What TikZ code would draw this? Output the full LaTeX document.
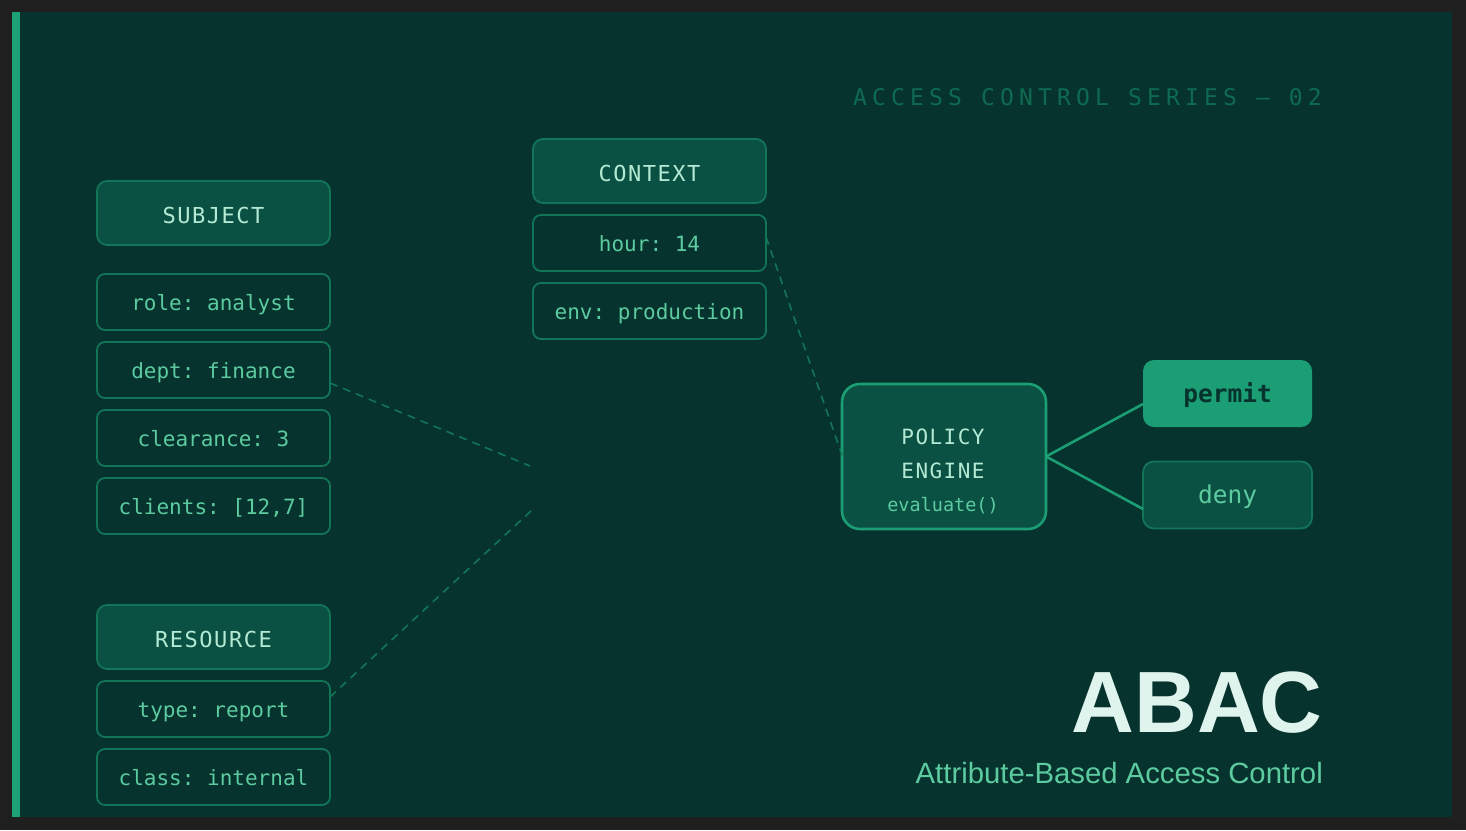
\documentclass[tikz,border=0pt]{standalone}
\usepackage{fontspec}
\setmainfont{Liberation Sans}
\newfontfamily\attrfont{DejaVu Sans Mono}
\newfontfamily\headfont[LetterSpace=7]{DejaVu Sans Mono}
\newfontfamily\titlefont[LetterSpace=22.5]{DejaVu Sans Mono}
\newfontfamily\boldmono{DejaVu Sans Mono Bold}
\definecolor{outerc}{HTML}{1F1F1F}
\definecolor{bgc}{HTML}{06332D}
\definecolor{stripec}{HTML}{1DA177}
\definecolor{headfill}{HTML}{0A5143}
\definecolor{boxline}{HTML}{137558}
\definecolor{accent}{HTML}{1C9E75}
\definecolor{attrtext}{HTML}{5CCBA0}
\definecolor{headtext}{HTML}{B4EAD4}
\definecolor{titlec}{HTML}{0E6A50}
\definecolor{abacc}{HTML}{E0F4EE}
\tikzset{
  headbox/.style={draw=boxline, fill=headfill, line width=1.8pt, rounded corners=10pt,
    minimum width=233pt, minimum height=64pt, inner sep=0pt, outer sep=0pt,
    text=headtext, font={\headfont\fontsize{22}{26}\selectfont}, text height=21pt, text depth=0pt},
  attrbox/.style={draw=boxline, fill=bgc, line width=1.8pt, rounded corners=8pt,
    minimum width=233pt, minimum height=56pt, inner sep=0pt, outer sep=0pt,
    text=attrtext, font={\attrfont\fontsize{21}{25}\selectfont}, text height=17.5pt, text depth=0pt},
  dashlink/.style={draw=boxline, line width=1.6pt, dash pattern=on 8pt off 6pt},
  solidlink/.style={draw=accent, line width=2.6pt},
}
\frenchspacing
\begin{document}
\frenchspacing
\begin{tikzpicture}[x=1pt,y=-1pt]
\useasboundingbox (0,0) rectangle (1466,830);
\fill[outerc] (0,0) rectangle (1466,830);
\fill[bgc] (12,12) rectangle (1452,817);
\fill[stripec] (12,12) rectangle (20,817);

% title
\node[anchor=base east, inner sep=0pt, text=titlec, font={\titlefont\fontsize{23}{27}\selectfont}] (series) at (1322,105) {ACCESS CONTROL SERIES — 02};

% subject
\node[headbox] (subject) at (213.5,213) {SUBJECT};
\node[attrbox] (role) at (213.5,302) {role: analyst};
\node[attrbox] (dept) at (213.5,370) {dept: finance};
\node[attrbox] (clear) at (213.5,438) {clearance: 3};
\node[attrbox] (clients) at (213.5,506) {clients: [12,7]};

% resource
\node[headbox] (resource) at (213.5,637) {RESOURCE};
\node[attrbox] (type) at (213.5,709) {type: report};
\node[attrbox] (class) at (213.5,777) {class: internal};

% context
\node[headbox] (context) at (649.5,171) {CONTEXT};
\node[attrbox] (hour) at (649.5,243) {hour: 14};
\node[attrbox] (env) at (649.5,311) {env: production};

% policy engine
\node[draw=accent, fill=headfill, line width=2.6pt, rounded corners=18pt,
  minimum width=204pt, minimum height=145pt, inner sep=0pt, outer sep=0pt] (engine) at (944,456.5) {};
\node[inner sep=0pt, text=headtext, font={\headfont\fontsize{21}{25}\selectfont}, anchor=base] (pol1) at (943,444) {POLICY};
\node[inner sep=0pt, text=headtext, font={\headfont\fontsize{21}{25}\selectfont}, anchor=base] (pol2) at (943,478) {ENGINE};
\node[inner sep=0pt, text=attrtext, font={\attrfont\fontsize{18.5}{22}\selectfont}, anchor=base] (evalf) at (943,511) {evaluate()};

% outcomes
\node[fill=accent, rounded corners=11pt, minimum width=169pt, minimum height=67pt,
  inner sep=0pt, outer sep=0pt, text=bgc, font={\boldmono\fontsize{24.5}{28}\selectfont},
  text height=17pt, text depth=0pt] (permit) at (1227.5,393.5) {permit};
\node[draw=boxline, fill=headfill, line width=1.8pt, rounded corners=11pt, minimum width=169pt, minimum height=67pt,
  inner sep=0pt, outer sep=0pt, text=attrtext, font={\attrfont\fontsize{24.5}{28}\selectfont},
  text height=17pt, text depth=0pt] (deny) at (1227.5,495) {deny};

% connectors
\coordinate (j1) at (530,466);
\coordinate (j2) at (531,511);
\draw[dashlink] (dept.east |- 0,383) -- (j1);
\draw[dashlink] (type.east |- 0,697) -- (j2);
\draw[dashlink] (hour.east |- 0,237) -- (engine.west |- 0,455);
\draw[solidlink] (engine.east) -- (permit.west |- 0,404);
\draw[solidlink] (engine.east) -- (deny.west |- 0,509);

% ABAC title
\node[anchor=base east, inner sep=0pt, text=abacc, font={\bfseries\fontsize{87}{94}\selectfont}] (abac) at (1323,732) {ABAC};
\node[anchor=base east, inner sep=0pt, text=attrtext, font={\fontsize{29.3}{33}\selectfont}] (abacsub) at (1323,783) {Attribute-Based Access Control};
\end{tikzpicture}
\end{document}
